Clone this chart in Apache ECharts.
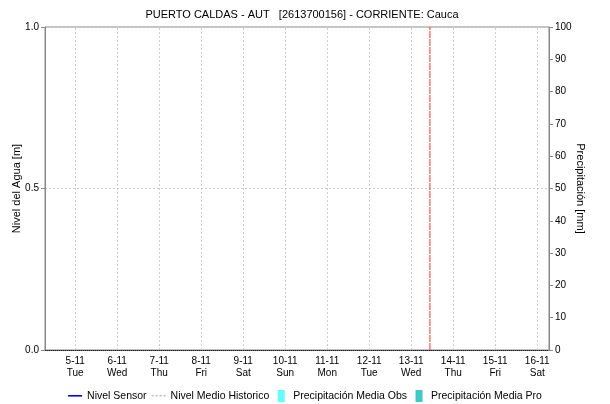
<!DOCTYPE html>
<html>
<head>
<meta charset="utf-8">
<script src="https://cdn.jsdelivr.net/npm/echarts@6/dist/echarts.min.js"></script>
<style>
  html, body { margin: 0; padding: 0; background: #fff; }
  #chart { width: 610px; height: 404px; }
</style>
</head>
<body>
<div id="chart"></div>
<script>
// dias del eje x (posicion = indice)
const fechas = ['5-11', '6-11', '7-11', '8-11', '9-11', '10-11', '11-11', '12-11', '13-11', '14-11', '15-11', '16-11'];
const diasSemana = ['Tue', 'Wed', 'Thu', 'Fri', 'Sat', 'Sun', 'Mon', 'Tue', 'Wed', 'Thu', 'Fri', 'Sat'];
// rango del eje en dias, relativo a 5-11
const inicioEje = -0.72;
const finEje = 11.28;
// hora actual (linea roja)
const ahora = 8.445;
// series (sin datos en el periodo)
const nivelSensor = [];
const nivelHistorico = [];
const precipObs = [];
const precipPro = [];

const fuente = 'Liberation Sans, Arial, sans-serif';
const chart = echarts.init(document.getElementById('chart'));

// iconos de leyenda (caja de 14x12)
const iconoBarra = 'path://M0,0M14,12M3.5,0h7v12h-7z';
const iconoLinea = 'path://M0,0M14,12M0,5h14v1.6h-14z';
const iconoGuiones = 'path://M0,0M14,12M0,5h2v1.6h-2zM4,5h2v1.6h-2zM8,5h2v1.6h-2zM12,5h2v1.6h-2z';

const option = {
  animation: false,
  textStyle: { fontFamily: fuente },
  title: {
    text: 'PUERTO CALDAS - AUT   [2613700156] - CORRIENTE: Cauca',
    left: 297,
    textAlign: 'center',
    top: 4,
    textStyle: { fontSize: 11, fontWeight: 'normal', color: '#000', fontFamily: fuente }
  },
  legend: {
    top: 385,
    left: 'center',
    itemWidth: 14,
    itemHeight: 12,
    itemGap: 5,
    textStyle: { fontSize: 10.5, color: '#000', fontFamily: fuente },
    data: [
      { name: 'Nivel Sensor', icon: iconoLinea },
      { name: 'Nivel Medio Historico', icon: iconoGuiones },
      { name: 'Precipitación Media Obs', icon: iconoBarra },
      { name: 'Precipitación Media Pro', icon: iconoBarra }
    ]
  },
  grid: {
    left: 45,
    right: 61,
    top: 27,
    bottom: 54,
    outerBoundsMode: 'none',
    containLabel: false,
    show: true,
    borderColor: '#888',
    borderWidth: 1
  },
  xAxis: {
    type: 'value',
    min: inicioEje,
    max: finEje,
    axisLine: { show: true, onZero: false, lineStyle: { color: '#222', type: [1, 1], width: 1 } },
    axisTick: { show: false },
    splitLine: { show: false },
    axisLabel: {
      customValues: fechas.map((_, i) => i),
      color: '#000',
      fontSize: 10,
      lineHeight: 12,
      margin: 5,
      fontFamily: fuente,
      formatter: v => {
        const i = Math.round(v);
        return fechas[i] + '\n' + diasSemana[i];
      }
    }
  },
  yAxis: [
    {
      type: 'value',
      min: 0,
      max: 1,
      interval: 0.5,
      position: 'left',
      name: 'Nivel del Agua [m]',
      nameLocation: 'middle',
      nameGap: 23,
      nameMoveOverlap: false,
      nameTextStyle: { fontSize: 11, color: '#000', fontFamily: fuente },
      axisLine: { show: true, onZero: false, lineStyle: { color: '#888' } },
      axisTick: { show: true, inside: false, length: 4, lineStyle: { color: '#888' } },
      axisLabel: { color: '#000', fontSize: 10, margin: 6, formatter: v => v.toFixed(1) },
      splitLine: { show: true, lineStyle: { color: '#ccc', type: [2, 2] } }
    },
    {
      type: 'value',
      min: 0,
      max: 100,
      interval: 10,
      position: 'right',
      name: 'Precipitación [mm]',
      nameLocation: 'middle',
      nameRotate: -90,
      nameGap: 26,
      nameMoveOverlap: false,
      nameTextStyle: { fontSize: 11, color: '#000', fontFamily: fuente },
      axisLine: { show: true, onZero: false, lineStyle: { color: '#888' } },
      axisTick: { show: true, inside: false, length: 4, lineStyle: { color: '#888' } },
      axisLabel: { color: '#000', fontSize: 10, margin: 6 },
      splitLine: { show: false }
    }
  ],
  series: [
    {
      name: 'Nivel Sensor',
      type: 'line',
      symbol: 'none',
      color: '#0000ff',
      lineStyle: { color: '#0000ff', width: 1 },
      data: nivelSensor,
      markLine: {
        silent: true,
        symbol: 'none',
        label: { show: false },
        lineStyle: { color: '#ccc', type: [2, 2], width: 1 },
        data: fechas.map((_, i) => ({ xAxis: i }))
      }
    },
    {
      name: 'Nivel Medio Historico',
      type: 'line',
      symbol: 'none',
      color: '#bbb',
      lineStyle: { color: '#bbb', type: [3, 3], width: 1 },
      data: nivelHistorico
    },
    {
      name: 'Precipitación Media Obs',
      type: 'bar',
      yAxisIndex: 1,
      color: '#66ffff',
      data: precipObs
    },
    {
      name: 'Precipitación Media Pro',
      type: 'bar',
      yAxisIndex: 1,
      color: '#40c8c8',
      data: precipPro
    },
    {
      // linea vertical de la hora actual
      name: 'ahora',
      type: 'line',
      symbol: 'none',
      silent: true,
      z: 5,
      color: '#ff3333',
      lineStyle: { color: '#ff3333', width: 1, type: [7, 1] },
      data: [[ahora, 0], [ahora, 1]]
    }
  ]
};

chart.setOption(option);
</script>
</body>
</html>
